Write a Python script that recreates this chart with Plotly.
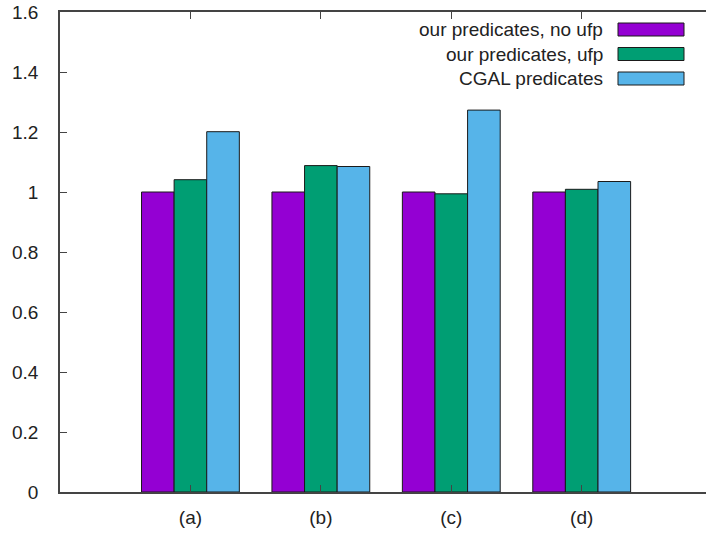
import plotly.graph_objects as go

categories = ["(a)", "(b)", "(c)", "(d)"]
series_names = ["our predicates, no ufp", "our predicates, ufp", "CGAL predicates"]
no_ufp = [1.0, 1.0, 1.0, 1.0]
ufp = [1.041, 1.088, 0.994, 1.009]
cgal = [1.201, 1.085, 1.273, 1.035]
colors = ["#9400D3", "#009E73", "#56B4E9"]
y_ticks = [0, 0.2, 0.4, 0.6, 0.8, 1, 1.2, 1.4, 1.6]
y_tick_text = ["0", "0.2", "0.4", "0.6", "0.8", "1", "1.2", "1.4", "1.6"]

FONT = "Liberation Sans, Arial, sans-serif"
W, H = 706, 533
ML, MR, MT, MB = 60, 0, 12, 41
PW, PH = W - ML - MR, H - MT - MB

fig = go.Figure()
x_idx = list(range(len(categories)))
for name, vals, col in zip(series_names, [no_ufp, ufp, cgal], colors):
    fig.add_trace(go.Bar(
        x=x_idx, y=vals, name=name,
        marker=dict(color=col, line=dict(color="#1a1a1a", width=1)),
        showlegend=False,
    ))

# gnuplot-style legend: text right-aligned, swatch on the right
def px_to_paper_x(px):
    return (px - ML) / PW

def px_to_paper_y(py):
    return (H - MB - py) / PH

row_centers = [29.5, 54, 78.5]
for name, col, cy in zip(series_names, colors, row_centers):
    fig.add_annotation(
        x=px_to_paper_x(605), y=px_to_paper_y(cy), xref="paper", yref="paper",
        text=name, showarrow=False, xanchor="right", yanchor="middle",
        font=dict(family=FONT, size=19, color="#222"),
    )
    fig.add_shape(
        type="rect", xref="paper", yref="paper",
        x0=px_to_paper_x(618), x1=px_to_paper_x(684),
        y0=px_to_paper_y(cy - 6.5), y1=px_to_paper_y(cy + 6.5),
        fillcolor=col, line=dict(color="#1a1a1a", width=1),
    )

fig.update_layout(
    width=W, height=H,
    margin=dict(l=ML, r=MR, t=MT, b=MB, pad=0),
    plot_bgcolor="white", paper_bgcolor="white",
    barmode="group", bargap=0.25, bargroupgap=0,
    font=dict(family=FONT, size=19, color="#222"),
    xaxis=dict(
        range=[-1, 3.953], tickmode="array", tickvals=x_idx, ticktext=categories,
        showline=True, linecolor="#444", linewidth=1.5, mirror="ticks",
        ticks="inside", ticklen=7, tickcolor="#444", showgrid=False, zeroline=False,
        ticklabelstandoff=7,
    ),
    yaxis=dict(
        range=[0, 1.6], tickmode="array", tickvals=y_ticks, ticktext=y_tick_text,
        showline=True, linecolor="#444", linewidth=1.5,
        ticks="inside", ticklen=7, tickcolor="#444", showgrid=False, zeroline=False,
        ticklabelstandoff=16,
    ),
)

fig.write_html(
    "out.html",
    config={"displayModeBar": False},
    post_script="document.body.style.margin='0';document.body.style.overflow='hidden';",
)
